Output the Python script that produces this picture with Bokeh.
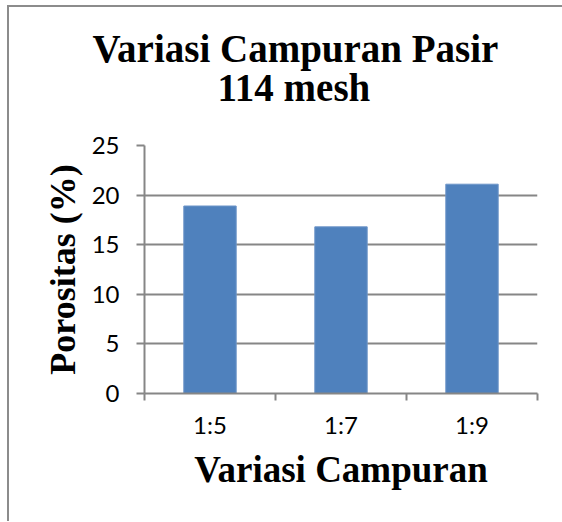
from bokeh.plotting import figure
from bokeh.models import Range1d, FixedTicker, Title
from bokeh.embed import file_html
from bokeh.resources import INLINE

categories = ["1:5", "1:7", "1:9"]
porositas = [18.9, 16.8, 21.1]
y_ticks = [0, 5, 10, 15, 20, 25]
title_lines = ["Variasi Campuran Pasir", "114 mesh"]

x_pos = [i + 0.5 for i in range(len(categories))]
boundaries = list(range(len(categories) + 1))

GRAY = "#868686"

p = figure(width=553, height=514, output_backend="svg", toolbar_location=None,
           title=None,
           x_range=Range1d(0, len(categories)), y_range=Range1d(0, 25),
           min_border_left=135, min_border_right=25, min_border_top=138,
           min_border_bottom=128)
p.styles = {"margin-left": "9px", "margin-top": "7px",
            "box-shadow": "-2px 0 0 0 #8c8c8c, 0 -2px 0 0 #8c8c8c, -2px -2px 0 0 #8c8c8c"}
p.outline_line_color = None
p.background_fill_color = "white"
p.border_fill_color = "white"

p.vbar(x=x_pos, top=porositas, width=0.4, fill_color="#4F81BD", line_color="#6d95c8", line_width=1)

# chart title: two lines, inner line added first
offsets = {"Variasi Campuran Pasir": -52, "114 mesh": 73}
standoffs = {"Variasi Campuran Pasir": -87, "114 mesh": 74}
for txt in reversed(title_lines):
    t = Title(text=txt, text_font="Liberation Serif", text_font_style="bold",
              text_font_size="39px", text_color="black", align="left",
              offset=offsets[txt])
    try:
        t.standoff = standoffs[txt]
    except Exception:
        t.standoff = 0
    p.add_layout(t, "above")

# x axis
xa = p.xaxis[0]
xa.ticker = FixedTicker(ticks=x_pos, minor_ticks=boundaries)
xa.major_label_overrides = {x: c for x, c in zip(x_pos, categories)}
xa.major_tick_out = 0
xa.major_tick_in = 0
xa.minor_tick_out = 7
xa.minor_tick_in = 0
xa.minor_tick_line_color = GRAY
xa.minor_tick_line_width = 2
xa.axis_line_color = GRAY
xa.axis_line_width = 2
xa.major_label_text_font = "Lato"
xa.major_label_text_font_size = "24px"
xa.major_label_text_color = "black"
xa.major_label_standoff = 9
xa.axis_label = "Variasi Campuran"
xa.axis_label_text_font = "Liberation Serif"
xa.axis_label_text_font_style = "bold"
xa.axis_label_text_font_size = "37px"
xa.axis_label_text_color = "black"
xa.axis_label_standoff = 7

# y axis
ya = p.yaxis[0]
ya.ticker = FixedTicker(ticks=y_ticks)
ya.major_tick_out = 8
ya.major_tick_in = 0
ya.minor_tick_line_color = None
ya.major_tick_line_color = GRAY
ya.major_tick_line_width = 2
ya.axis_line_color = GRAY
ya.axis_line_width = 2
ya.major_label_text_font = "Lato"
ya.major_label_text_font_size = "24px"
ya.major_label_text_color = "black"
ya.major_label_standoff = 17
ya.axis_label = "Porositas (%)"
ya.axis_label_text_font = "Liberation Serif"
ya.axis_label_text_font_style = "bold"
ya.axis_label_text_font_size = "36px"
ya.axis_label_text_color = "black"
ya.axis_label_standoff = 6

p.xgrid.grid_line_color = None
p.ygrid.grid_line_color = GRAY
p.ygrid.grid_line_width = 2

open("out.html", "w").write(file_html(p, INLINE))
